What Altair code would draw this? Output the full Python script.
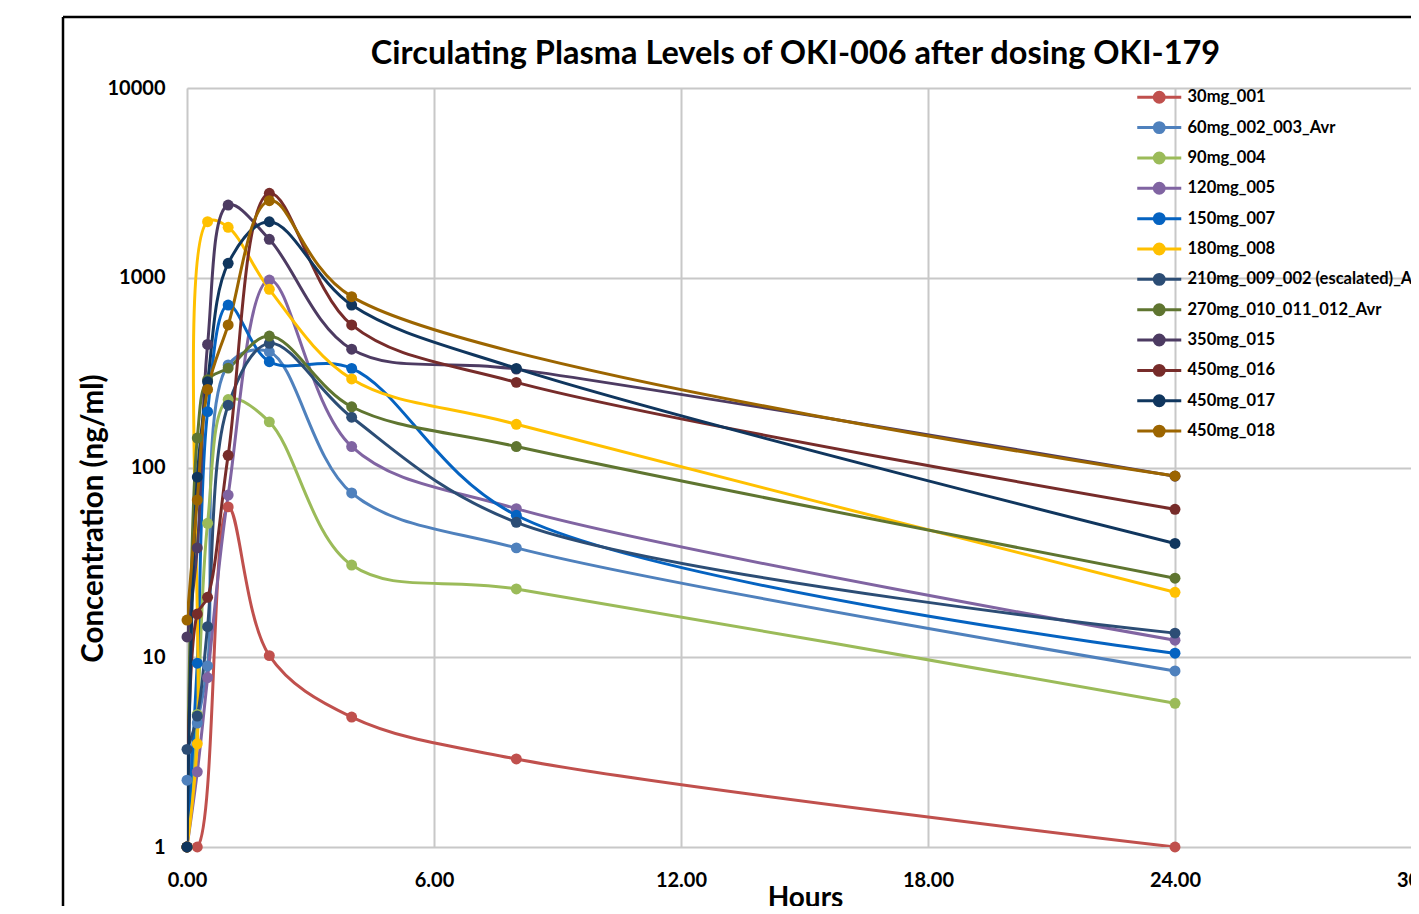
import altair as alt
import pandas as pd

# ---- data ----
hours = [0, 0.25, 0.5, 1, 2, 4, 8, 24]

series_names = [
    "30mg_001", "60mg_002_003_Avr", "90mg_004", "120mg_005", "150mg_007",
    "180mg_008", "210mg_009_002 (escalated)_Avr", "270mg_010_011_012_Avr",
    "350mg_015", "450mg_016", "450mg_017", "450mg_018",
]
series_colors = [
    "#C0504D", "#4F81BD", "#9BBB59", "#8064A2", "#0563C1", "#FFC000",
    "#2C4D75", "#5F7530", "#4D3B62", "#772C2A", "#10365E", "#9C6500",
]

c_30mg_001 = [1, 1, None, 62, 10.2, 4.84, 2.91, 1]
c_60mg_002_003 = [2.25, 4.5, 9, 347, 407, 73.4, 37.7, 8.47]
c_90mg_004 = [1, 5, 50.8, 228, 174, 30.6, 22.9, 5.72]
c_120mg_005 = [1, 2.49, 7.8, 71.6, 973, 129, 60.7, 12.3]
c_150mg_007 = [1, 9.3, 197, 718, 361, 333, 56, 10.5]
c_180mg_008 = [1, 3.5, 1974, 1845, 869, 293, 169, 22]
c_210mg_009_002 = [3.27, 4.9, 14.5, 213, 451, 184, 51.4, 13.4]
c_270mg_010_011_012 = [1, 143, 290, 334, 493, 209, 129, 26.1]
c_350mg_015 = [12.8, 37.7, 445, 2417, 1594, 420, 330, 90]
c_450mg_016 = [1, 16.9, 20.7, 116, 2786, 564, 281, 60.2]
c_450mg_017 = [1, 89, 283, 1191, 1973, 718, 333, 39.8]
c_450mg_018 = [15.7, 67.4, 258, 564, 2548, 795, None, 90.2]

all_values = [
    c_30mg_001, c_60mg_002_003, c_90mg_004, c_120mg_005, c_150mg_007,
    c_180mg_008, c_210mg_009_002, c_270mg_010_011_012, c_350mg_015,
    c_450mg_016, c_450mg_017, c_450mg_018,
]

x_ticks = [0, 6, 12, 18, 24, 30]
y_ticks = [1, 10, 100, 1000, 10000]

rows = []
for i, (name, vals) in enumerate(zip(series_names, all_values)):
    for t, v in zip(hours, vals):
        if v is not None:
            rows.append({"series": name, "order": i, "hours": t, "conc": v})
df = pd.DataFrame(rows)

FONT = "Lato"

x_enc = alt.X(
    "hours:Q",
    scale=alt.Scale(domain=[0, 30], range=[0, 1235], nice=False),
    axis=alt.Axis(
        values=x_ticks, format=".2f", grid=True, gridColor="#C8C8C8", gridWidth=2,
        domain=False, ticks=False, labelFlush=False, labelFont=FONT, labelFontSize=20,
        labelFontWeight="bold", labelColor="#000000", labelPadding=23,
        title="Hours", titleFont=FONT, titleFontSize=28, titleFontWeight="bold",
        titleColor="#000000", titleX=618, titleY=59, titleBaseline="alphabetic",
    ),
)
y_enc = alt.Y(
    "conc:Q",
    scale=alt.Scale(type="log", domain=[1, 10000], nice=False),
    axis=alt.Axis(
        values=y_ticks, format="d", grid=True, gridColor="#C8C8C8", gridWidth=2,
        domain=False, ticks=False, labelFlush=False, labelFont=FONT, labelFontSize=20,
        labelFontWeight="bold", labelColor="#000000", labelPadding=22,
        title="Concentration (ng/ml)", titleFont=FONT, titleFontSize=29.5,
        titleFontWeight="bold", titleColor="#000000", titleAngle=270,
        titleX=-94, titleY=430, titleAlign="center", titleBaseline="middle",
    ),
)

color_scale = alt.Scale(domain=series_names, range=series_colors)
legend_symbol = "M-4,0H4M0.9,0A0.9,0.9,0,1,1,-0.9,0A0.9,0.9,0,1,1,0.9,0Z"
legend = alt.Legend(
    title=None, orient="none", legendX=964, legendY=1, padding=0,
    symbolType=legend_symbol, symbolSize=121, symbolStrokeWidth=3,
    labelFont=FONT, labelFontSize=16.5, labelFontWeight="bold",
    labelColor="#000000", labelOffset=20, labelLimit=500, rowPadding=7.35,
)

lines = alt.Chart(df).mark_line(interpolate="catmull-rom", strokeWidth=3, clip=True).encode(
    x=x_enc, y=y_enc,
    stroke=alt.Stroke("series:N", scale=color_scale, legend=legend),
    order=alt.Order("hours:Q"),
)
points = alt.Chart(df).mark_point(filled=True, size=120, opacity=1).encode(
    x=x_enc, y=y_enc,
    fill=alt.Fill("series:N", scale=color_scale, legend=legend),
)

frame_df = pd.DataFrame({"k": [0]})
frame_left = alt.Chart(frame_df).mark_rule(color="#000000", strokeWidth=2.5).encode(
    x=alt.value(-124), y=alt.value(-71), y2=alt.value(830)
)
frame_top = alt.Chart(frame_df).mark_rule(color="#000000", strokeWidth=2.5).encode(
    x=alt.value(-124), x2=alt.value(1240), y=alt.value(-71)
)

chart = alt.layer(frame_left, frame_top, lines, points).properties(
    width=1224, height=759,
    title=alt.TitleParams(
        "Circulating Plasma Levels of OKI-006 after dosing OKI-179",
        font=FONT, fontSize=32.5, fontWeight="bold", color="#000000",
        anchor="middle", baseline="alphabetic", dx=-3.5, offset=-81,
    ),
    autosize=alt.AutoSizeParams(type="none"),
    padding={"left": 179, "top": 80, "right": 0, "bottom": 59},
).configure_view(strokeWidth=0).configure(background="#FFFFFF")

chart.save("out.html", embed_options={"renderer": "svg", "actions": False})
